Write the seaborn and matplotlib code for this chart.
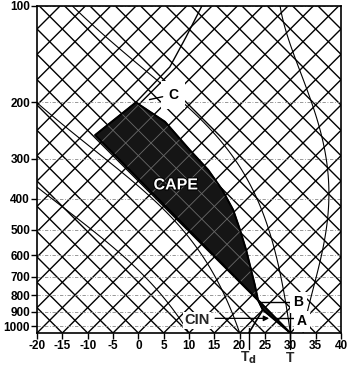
import numpy as np
import matplotlib
matplotlib.use("Agg")
import matplotlib.pyplot as plt
import seaborn as sns
import matplotlib.patheffects as pe
from matplotlib.patches import Polygon

sns.set_theme(style="white")
plt.rcParams['font.family'] = ['Liberation Sans', 'DejaVu Sans']

# ---- sounding (temperature in degC, pressure in hPa) ----
env_t = [30.0, 17.1, -47.6, -46.0]
env_p = [1050, 828, 253, 200]

# environment above the equilibrium level
upper_t = [-46.0, -46.3, -49.0, -52.0]
upper_p = [200, 155, 125, 100]

parcel_t = [30.0, 20.0, 17.1, 13.5, 9.8, 4.9, -0.3, -5.6, -11.7, -18.4, -25.9, -36.4, -46.0]
parcel_p = [1050, 889, 828, 743, 667, 578, 500, 433, 375, 325, 282, 230, 200]

dew_t = [21.8, 20.0]
dew_p = [1050, 889]

# warm saturated adiabat on the right of the diagram
warm_t = [32.5, 26.0, 16.5, 7.6, 0.7, -9.6, -25.4, -36.6]
warm_p = [1050, 770, 500, 349, 282, 211, 137, 100]

surface_t = 30.0
surface_td = 21.8
level_a = 945
level_b = 842

pressure_ticks = [100, 200, 300, 400, 500, 600, 700, 800, 900, 1000]
temp_ticks = list(range(-20, 45, 5))
moist_start = [10, 20, 30]

P_BOT, P_TOP = 1050, 100
T_MIN, T_MAX = -20, 40

W, H = 349, 366
ax_px = (37, 33, 304, 327)  # left, bottom, width, height in pixels
fig = plt.figure(figsize=(W / 100, H / 100), dpi=100)
ax = fig.add_axes([ax_px[0] / W, ax_px[1] / H, ax_px[2] / W, ax_px[3] / H])
ax.set_yscale('log')
ax.set_xlim(T_MIN, T_MAX)
ax.set_ylim(P_BOT, P_TOP)

# skew so isotherms run at 45 degrees on screen
SKEW = (ax_px[3] / np.log(P_BOT / P_TOP)) / (ax_px[2] / (T_MAX - T_MIN))


def sx(t, p):
    return np.asarray(t, float) + SKEW * np.log(P_BOT / np.asarray(p, float))


def yfrac(py):
    # figure pixel row (from top) -> axes fraction
    return ((H - py) - ax_px[1]) / ax_px[3]


pe_line = np.array([P_BOT, P_TOP])
grid_kw = dict(color='black', lw=1.0, zorder=1)
grid_lines = []
for t0 in range(-90, 45, 5):
    grid_lines.append((sx([t0, t0], pe_line), pe_line))
for c in range(-20, 110, 5):
    grid_lines.append((c - SKEW * np.log(P_BOT / pe_line), pe_line))
for gx, gy in grid_lines:
    ax.plot(gx, gy, **grid_kw)

# isobars
for p in pressure_ticks:
    ax.axhline(p, color='#888888', lw=0.6, ls=(0, (4, 2, 1, 2)), zorder=1)


# saturated (pseudo) adiabats
def moist_curve(t0, p):
    Rd, cp, Lv, eps = 287.04, 1005.7, 2.501e6, 0.622

    def f(T, pp):
        es = 6.112 * np.exp(17.67 * (T - 273.15) / (T - 29.65))
        rs = eps * es / (pp - es)
        return (Rd * T + Lv * rs) / (cp + Lv * Lv * rs * eps / (Rd * T * T)) / pp

    T = t0 + 273.15
    out = [T]
    for i in range(1, len(p)):
        dp = p[i] - p[i - 1]
        k1 = f(T, p[i - 1])
        k2 = f(T + k1 * dp, p[i])
        T += 0.5 * (k1 + k2) * dp
        out.append(T)
    return np.array(out) - 273.15


pp = np.geomspace(P_BOT, P_TOP, 120)
for t0 in moist_start:
    tt = moist_curve(t0, pp)
    ax.plot(sx(tt, pp), pp, color='black', lw=0.8, zorder=1)

# smooth the hand-read warm adiabat in log-pressure
lw_p = np.log(warm_p)
fine = np.linspace(lw_p[0], lw_p[-1], 80)
coef = np.polyfit(lw_p, sx(warm_t, warm_p), 4)
ax.plot(np.polyval(coef, fine), np.exp(fine), color='black', lw=0.8, zorder=1)

# CAPE area between parcel and environment
cape_x = np.concatenate([sx(env_t[1:4], env_p[1:4]), sx(parcel_t[::-1][1:-1], parcel_p[::-1][1:-1])])
cape_p = np.concatenate([env_p[1:4], parcel_p[::-1][1:-1]])
poly = Polygon(np.column_stack([cape_x, cape_p]), closed=True, facecolor='#151515',
               edgecolor='black', lw=1.0, zorder=2)
ax.add_patch(poly)
for gx, gy in grid_lines:
    ln, = ax.plot(gx, gy, color='#6a6a6a', lw=0.6, zorder=2.5)
    ln.set_clip_path(poly)

# CIN wedge near the ground
cin_x = np.concatenate([sx(env_t[:2], env_p[:2]), sx(parcel_t[1:3][::-1], parcel_p[1:3][::-1])])
cin_p = np.concatenate([env_p[:2], parcel_p[1:3][::-1]])
ax.add_patch(Polygon(np.column_stack([cin_x, cin_p]), closed=True, facecolor='#151515',
                     edgecolor='black', lw=0.8, zorder=2))

sns.lineplot(x=sx(env_t, env_p), y=env_p, sort=False, estimator=None, color='black', lw=1.4, ax=ax, zorder=3)
sns.lineplot(x=sx(upper_t, upper_p), y=upper_p, sort=False, estimator=None, color='black', lw=1.0, ax=ax, zorder=3)
sns.lineplot(x=sx(parcel_t, parcel_p), y=parcel_p, sort=False, estimator=None, color='black', lw=1.4, ax=ax, zorder=3)
sns.lineplot(x=sx(dew_t, dew_p), y=dew_p, sort=False, estimator=None, color='black', lw=1.2, ax=ax, zorder=3)

# levels A and B
xa0 = float(np.interp(np.log(level_a), np.log(parcel_p[::-1]), sx(parcel_t, parcel_p)[::-1]))
xb0 = float(np.interp(np.log(level_b), np.log(parcel_p[::-1]), sx(parcel_t, parcel_p)[::-1]))
x_t = float(sx(surface_t, P_BOT))
ax.plot([xb0, x_t + 0.5], [level_b, level_b], color='black', lw=1.0, zorder=3)
ax.plot([xa0, x_t + 1.5], [level_a, level_a], color='black', lw=1.0, zorder=3)
ax.plot([x_t, x_t], [level_b, P_BOT], color='black', lw=1.0, zorder=3)

txt_kw = dict(fontsize=10, fontweight='bold', color='black', zorder=5)
box = dict(boxstyle='square,pad=0.25', fc='white', ec='none')
ax.text(31.6, level_b, 'B', ha='center', va='center', bbox=box, **txt_kw)
ax.text(32.3, 965, 'A', ha='center', va='center', bbox=box, **txt_kw)
ax.text(11.6, 957, 'CIN', ha='center', va='center', fontsize=10.5, fontweight='bold',
        bbox=dict(boxstyle='square,pad=0.1', fc='white', ec='none'), zorder=5)
ax.annotate('', xy=(xa0 - 0.2, level_a), xytext=(14.6, level_a),
            arrowprops=dict(arrowstyle='-|>', color='black', lw=0.9, mutation_scale=8), zorder=5)
ax.text(6.9, 190, 'C', ha='center', va='center',
        bbox=dict(boxstyle='square,pad=0.5', fc='white', ec='none'), **txt_kw)
ax.plot([2.2, 4.8], [196, 192], color='black', lw=1.0, zorder=6)
ax.text(7.4, 362, 'CAPE', ha='center', va='center', fontsize=11.5, fontweight='bold', color='white',
        zorder=6, path_effects=[pe.withStroke(linewidth=1.6, foreground='black')])

# axes and ticks
ax.set_yticks(pressure_ticks)
ax.set_yticklabels([str(p) for p in pressure_ticks])
ax.yaxis.set_minor_locator(matplotlib.ticker.NullLocator())
ax.set_xticks(temp_ticks)
ax.set_xticklabels([str(t) for t in temp_ticks])
ax.tick_params(direction='out', length=4, width=1.0, labelsize=8.5, pad=1,
               left=True, bottom=True, colors='black')
for lab in ax.get_xticklabels() + ax.get_yticklabels():
    lab.set_fontweight('bold')
for s in ax.spines.values():
    s.set_color('black')
    s.set_linewidth(1.2)
ax.set_xlabel('')
ax.set_ylabel('')

# T and Td markers below the axis
tr = ax.get_xaxis_transform()
x_td = float(sx(surface_td, P_BOT))
ax.plot([x_t, x_t], [0, yfrac(349)], transform=tr, color='black', lw=1.0, clip_on=False, zorder=6)
ax.plot([x_td, x_td], [yfrac(328), yfrac(349)], transform=tr, color='black', lw=1.0, clip_on=False, zorder=6)
ax.text(x_t, yfrac(358), 'T', transform=tr, ha='center', va='center', fontsize=10, fontweight='bold')
ax.text(x_td, yfrac(358), r'T$_\mathbf{d}$', transform=tr, ha='center', va='center', fontsize=10,
        fontweight='bold')

fig.savefig('out.png', dpi=100, facecolor='white')
